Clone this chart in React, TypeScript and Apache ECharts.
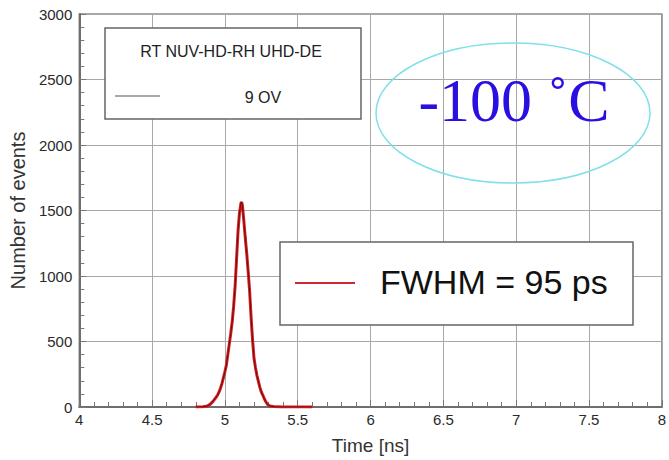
import React, { useEffect, useRef } from "react";
import * as echarts from "echarts";

const timeNs = [
  4.8, 4.85, 4.88, 4.9, 4.92, 4.94, 4.95, 4.96, 4.97, 4.98, 4.99, 5.0, 5.01, 5.02,
  5.03, 5.04, 5.05, 5.06, 5.07, 5.08, 5.09, 5.1, 5.11, 5.115, 5.12, 5.13, 5.14,
  5.15, 5.16, 5.17, 5.18, 5.19, 5.2, 5.21, 5.22, 5.23, 5.24, 5.25, 5.26, 5.27,
  5.28, 5.29, 5.3, 5.32, 5.35, 5.4, 5.6,
];
const events = [
  0, 2, 8, 22, 45, 75, 92, 115, 145, 180, 225, 270, 320, 400,
  480, 560, 650, 770, 920, 1130, 1340, 1480, 1555, 1565, 1540, 1420, 1290,
  1170, 1030, 880, 680, 510, 370, 300, 240, 195, 150, 115, 90, 65,
  42, 25, 12, 5, 1, 0, 0,
];

const legendTitle = "RT NUV-HD-RH UHD-DE";
const legendEntry = "9 OV";
const fwhmLabel = "FWHM = 95 ps";
const tempLabel = "-100 ˚C";
const xName = "Time [ns]";
const yName = "Number of events";

export default function App() {
  const ref = useRef<HTMLDivElement>(null);
  useEffect(() => {
    document.body.style.margin = "0";
    if (!ref.current) return;
    const chart = echarts.init(ref.current, null, { renderer: "svg" });
    const data = timeNs.map((t, i) => [t, events[i]]);
    const sans = "Liberation Sans, Arial, sans-serif";
    chart.setOption({
      animation: false,
      backgroundColor: "#ffffff",
      grid: {
        left: 78,
        right: 2,
        top: 14,
        bottom: 52,
        show: true,
        borderColor: "#8a8a8a",
        borderWidth: 1.5,
      },
      xAxis: {
        type: "value",
        min: 4,
        max: 8,
        interval: 0.5,
        name: xName,
        nameLocation: "middle",
        nameGap: 29,
        nameTextStyle: { fontSize: 19, color: "#333", fontFamily: sans },
        axisLine: { lineStyle: { color: "#6e6e6e", width: 2 } },
        axisTick: { show: true, inside: true, length: 7, lineStyle: { color: "#777" } },
        minorTick: { show: true, splitNumber: 5, length: 5, lineStyle: { color: "#777" } },
        axisLabel: { fontSize: 15, color: "#2a2a2a", margin: 5, fontFamily: sans },
        splitLine: { show: true, lineStyle: { color: "#a8a8a8", width: 1 } },
      },
      yAxis: {
        type: "value",
        min: 0,
        max: 3000,
        interval: 500,
        name: yName,
        nameLocation: "middle",
        nameGap: 48,
        nameTextStyle: { fontSize: 20, color: "#333", fontFamily: sans },
        axisLine: { show: true, lineStyle: { color: "#6e6e6e", width: 2 } },
        axisTick: { show: true, inside: true, length: 7, lineStyle: { color: "#777" } },
        minorTick: { show: true, splitNumber: 5, length: 5, lineStyle: { color: "#777" } },
        axisLabel: {
          fontSize: 15,
          color: "#2a2a2a",
          margin: 7,
          fontFamily: sans,
          formatter: (v: number) => String(v),
        },
        splitLine: { show: true, lineStyle: { color: "#a8a8a8", width: 1 } },
      },
      series: [
        {
          type: "line",
          data,
          showSymbol: false,
          lineStyle: { color: "#d42020", width: 3 },
          z: 3,
        },
        {
          type: "line",
          data,
          showSymbol: false,
          lineStyle: { color: "#5a0808", width: 0.8 },
          z: 4,
        },
      ],
      graphic: [
        {
          type: "rect",
          shape: { x: 105, y: 28, width: 256, height: 91 },
          style: { fill: "#fff", stroke: "#666", lineWidth: 1.5 },
          z: 10,
        },
        {
          type: "text",
          x: 231,
          y: 51,
          style: {
            text: legendTitle,
            fontSize: 16,
            fontFamily: sans,
            fill: "#222",
            align: "center",
            verticalAlign: "middle",
          },
          z: 11,
        },
        {
          type: "line",
          shape: { x1: 115, y1: 96, x2: 160, y2: 96 },
          style: { stroke: "#555", lineWidth: 1.2 },
          z: 11,
        },
        {
          type: "text",
          x: 263,
          y: 97,
          style: {
            text: legendEntry,
            fontSize: 16,
            fontFamily: sans,
            fill: "#222",
            align: "center",
            verticalAlign: "middle",
          },
          z: 11,
        },
        {
          type: "ellipse",
          shape: { cx: 513, cy: 113, rx: 137, ry: 70 },
          style: { fill: "rgba(255,255,255,0)", stroke: "#7fe0ea", lineWidth: 1.5 },
          z: 10,
        },
        {
          type: "text",
          x: 514,
          y: 100,
          style: {
            text: tempLabel,
            fontSize: 62,
            fontFamily: "Liberation Serif, Times New Roman, serif",
            fill: "#2a10e0",
            align: "center",
            verticalAlign: "middle",
          },
          z: 11,
        },
        {
          type: "rect",
          shape: { x: 280, y: 242, width: 353, height: 83 },
          style: { fill: "#fff", stroke: "#666", lineWidth: 1.5 },
          z: 10,
        },
        {
          type: "line",
          shape: { x1: 295, y1: 283, x2: 355, y2: 283 },
          style: { stroke: "#cc2a33", lineWidth: 2 },
          z: 11,
        },
        {
          type: "text",
          x: 380,
          y: 282,
          style: {
            text: fwhmLabel,
            fontSize: 34,
            fontFamily: sans,
            fill: "#111",
            align: "left",
            verticalAlign: "middle",
          },
          z: 11,
        },
      ],
    });
    return () => chart.dispose();
  }, []);
  return <div ref={ref} style={{ width: 669, height: 460 }} />;
}
